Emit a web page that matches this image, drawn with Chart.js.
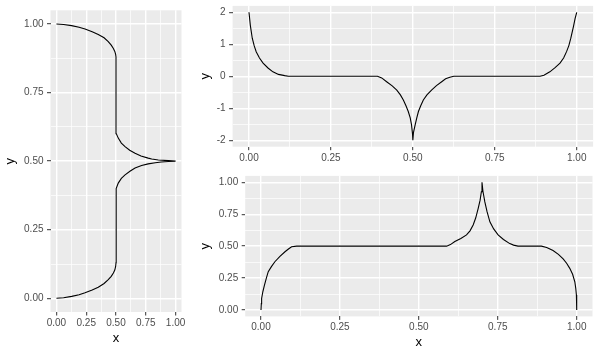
<!DOCTYPE html>
<html><head><meta charset="utf-8">
<script src="https://cdn.jsdelivr.net/npm/chart.js@4.4.1/dist/chart.umd.min.js"></script>
<style>
html,body{margin:0;padding:0;background:#fff;width:600px;height:356px;overflow:hidden}
canvas{position:absolute;display:block}
</style></head><body>
<canvas id="a" width="195" height="356" style="left:0;top:0;width:195px;height:356px"></canvas>
<canvas id="b" width="405" height="170" style="left:195px;top:0;width:405px;height:170px"></canvas>
<canvas id="c" width="405" height="186" style="left:195px;top:170px;width:405px;height:186px"></canvas>
<script>
// ---- data ----
const leftX = [0, 0.06, 0.128, 0.19, 0.24, 0.30, 0.351, 0.40, 0.435, 0.46, 0.478, 0.49, 0.497, 0.5, 0.5, 0.503, 0.519, 0.545, 0.576, 0.62, 0.66, 0.715, 0.77, 0.83, 0.88, 0.94, 1.0,
  0.94, 0.855, 0.80, 0.77, 0.71, 0.66, 0.615, 0.576, 0.545, 0.519, 0.503, 0.5, 0.5, 0.497, 0.49, 0.478, 0.46, 0.435, 0.40, 0.351, 0.30, 0.24, 0.19, 0.127, 0.06, 0];
const leftY = [0, 0.002, 0.007, 0.013, 0.02, 0.03, 0.04, 0.054, 0.068, 0.08, 0.092, 0.103, 0.116, 0.13, 0.385, 0.40, 0.42, 0.437, 0.45, 0.464, 0.475, 0.484, 0.49, 0.494, 0.497, 0.499, 0.5,
  0.502, 0.504, 0.508, 0.511, 0.519, 0.529, 0.54, 0.553, 0.566, 0.584, 0.60, 0.614, 0.88, 0.889, 0.90, 0.911, 0.923, 0.936, 0.95, 0.962, 0.972, 0.982, 0.988, 0.994, 0.998, 1.0];

const topX = [0, 0.004, 0.010, 0.016, 0.022, 0.032, 0.043, 0.058, 0.073, 0.09, 0.109, 0.12,
  0.392, 0.405, 0.42, 0.437, 0.451, 0.462, 0.471, 0.479, 0.486, 0.492, 0.496, 0.499, 0.5,
  0.502, 0.507, 0.512, 0.517, 0.524, 0.532, 0.543, 0.557, 0.572, 0.588, 0.6, 0.613, 0.625,
  0.888, 0.9, 0.918, 0.934, 0.949, 0.96, 0.969, 0.976, 0.982, 0.99, 0.995, 1.0];
const topY = [2, 1.6, 1.19, 0.95, 0.77, 0.57, 0.41, 0.26, 0.14, 0.06, 0.02, 0,
  0, -0.05, -0.17, -0.3, -0.43, -0.58, -0.74, -0.92, -1.1, -1.3, -1.52, -1.8, -2,
  -1.75, -1.52, -1.3, -1.1, -0.92, -0.74, -0.58, -0.43, -0.29, -0.17, -0.08, -0.03, 0,
  0, 0.03, 0.14, 0.27, 0.41, 0.57, 0.77, 0.96, 1.19, 1.55, 1.8, 2];

const botX = [0, 0.001, 0.002, 0.006, 0.011, 0.017, 0.023, 0.033, 0.044, 0.06, 0.076, 0.087, 0.097, 0.113,
  0.588, 0.6, 0.614, 0.633, 0.651, 0.662, 0.672, 0.68, 0.688, 0.694, 0.698, 0.70,
  0.703, 0.709, 0.716, 0.725, 0.737, 0.751, 0.768, 0.788, 0.8, 0.814,
  0.888, 0.905, 0.925, 0.942, 0.957, 0.968, 0.978, 0.987, 0.994, 0.997, 0.999, 1.0, 1.0];
const botY = [0, 0.05, 0.09, 0.145, 0.195, 0.25, 0.3, 0.34, 0.378, 0.42, 0.456, 0.478, 0.495, 0.5,
  0.5, 0.512, 0.536, 0.56, 0.588, 0.62, 0.666, 0.72, 0.796, 0.86, 0.926, 1.0,
  0.93, 0.846, 0.77, 0.69, 0.635, 0.588, 0.552, 0.52, 0.508, 0.5,
  0.5, 0.49, 0.466, 0.436, 0.4, 0.366, 0.326, 0.28, 0.221, 0.17, 0.117, 0.06, 0];

const unitTicks = [0, 0.25, 0.5, 0.75, 1];
const unitTickLabels = ['0.00', '0.25', '0.50', '0.75', '1.00'];
const unitMinor = [0.125, 0.375, 0.625, 0.875];
const topYTicks = [-2, -1, 0, 1, 2];
const topYTickLabels = ['-2', '-1', '0', '1', '2'];
const topYMinor = [-1.5, -0.5, 0.5, 1.5];

// ---- styling helpers ----
const FONT = "'Liberation Sans', Arial, sans-serif";
const bgPlugin = {
  id: 'bg',
  beforeDraw(chart) {
    const {ctx, chartArea: a} = chart;
    ctx.save();
    ctx.fillStyle = '#EBEBEB';
    ctx.fillRect(a.left, a.top, a.right - a.left, a.bottom - a.top);
    ctx.restore();
  }
};

function axis(o) {
  const isMajor = v => o.majors.some(m => Math.abs(m - v) < 1e-9);
  return {
    type: 'linear', position: o.position, min: o.min, max: o.max,
    afterBuildTicks: s => {
      s.ticks = o.majors.concat(o.minors).sort((p, q) => p - q).map(v => ({value: v}));
    },
    afterFit: s => {
      if (o.position === 'bottom') s.height = o.size; else s.width = o.size;
      s.paddingLeft = s.paddingRight = s.paddingTop = s.paddingBottom = 0;
    },
    ticks: {
      autoSkip: false, maxRotation: 0, minRotation: 0, padding: o.tickPad,
      color: '#4D4D4D', font: {family: FONT, size: 10},
      callback: v => {
        const i = o.majors.findIndex(m => Math.abs(m - v) < 1e-9);
        return i >= 0 ? o.labels[i] : '';
      }
    },
    grid: {
      color: '#FFFFFF',
      lineWidth: c => (c.tick && isMajor(c.tick.value)) ? 1.4 : 0.7,
      drawTicks: true, tickLength: 3.5, tickWidth: 1,
      tickColor: c => (c.tick && isMajor(c.tick.value)) ? '#333333' : 'rgba(0,0,0,0)'
    },
    border: {display: false},
    title: {
      display: !!o.title, text: o.title || '', color: '#000000',
      font: {family: FONT, size: 13}, padding: o.titlePad || 0
    }
  };
}

function makeChart(id, xs, ys, pad, xAx, yAx) {
  return new Chart(document.getElementById(id), {
    type: 'scatter',
    data: {datasets: [{
      data: xs.map((x, i) => ({x: x, y: ys[i]})),
      showLine: true, pointRadius: 0, pointHoverRadius: 0,
      borderColor: '#000000', borderWidth: 1.1, fill: false, tension: 0
    }]},
    options: {
      responsive: false, animation: false,
      layout: {padding: pad},
      plugins: {legend: {display: false}, tooltip: {enabled: false}},
      scales: {x: axis(xAx), y: axis(yAx)}
    },
    plugins: [bgPlugin]
  });
}

makeChart('a', leftX, leftY, {left: 0, top: 10.3, right: 13.5, bottom: 0},
  {position: 'bottom', min: -0.05, max: 1.05, majors: unitTicks, minors: unitMinor, labels: unitTickLabels, size: 44, tickPad: 1.8, title: 'x', titlePad: {top: 0, bottom: 9.6}},
  {position: 'left', min: -0.05, max: 1.05, majors: unitTicks, minors: unitMinor, labels: unitTickLabels, size: 50.5, tickPad: 3.5, title: 'y', titlePad: {top: 2.7, bottom: 0}});

makeChart('b', topX, topY, {left: 0, top: 5.9, right: 6.9, bottom: 0},
  {position: 'bottom', min: -0.05, max: 1.05, majors: unitTicks, minors: unitMinor, labels: unitTickLabels, size: 23.3, tickPad: 1.8},
  {position: 'left', min: -2.2, max: 2.2, majors: topYTicks, minors: topYMinor, labels: topYTickLabels, size: 37.6, tickPad: 3.5, title: 'y', titlePad: {top: 2.7, bottom: 0}});

makeChart('c', botX, botY, {left: 0, top: 5.9, right: 7.5, bottom: 0},
  {position: 'bottom', min: -0.05, max: 1.05, majors: unitTicks, minors: unitMinor, labels: unitTickLabels, size: 39.6, tickPad: 1.8, title: 'x', titlePad: {top: 0, bottom: 5.3}},
  {position: 'left', min: -0.05, max: 1.05, majors: unitTicks, minors: unitMinor, labels: unitTickLabels, size: 50.2, tickPad: 3.5, title: 'y', titlePad: {top: 2.7, bottom: 0}});
</script>
</body></html>
